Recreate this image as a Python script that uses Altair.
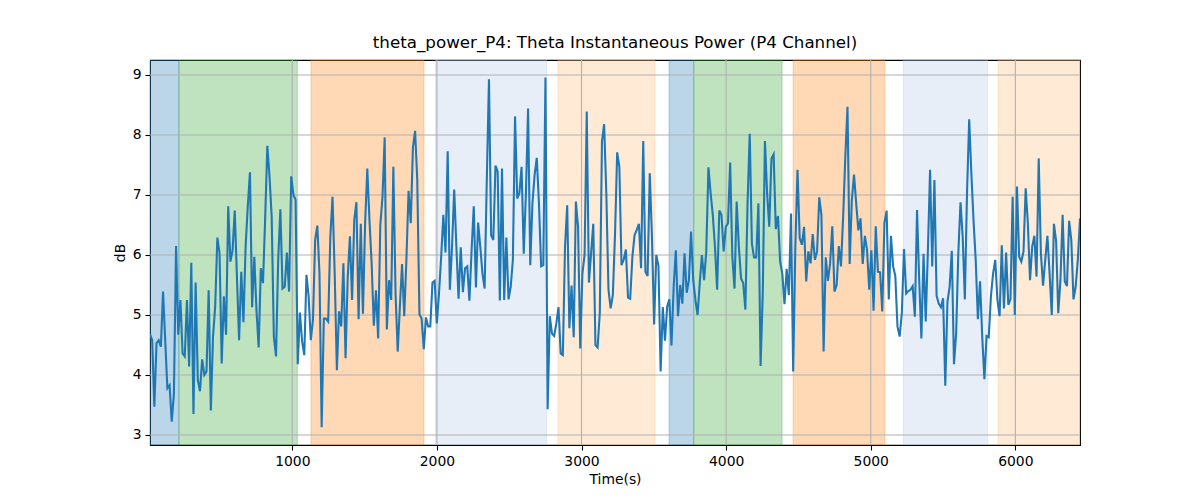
import altair as alt
import numpy as np
import pandas as pd

# ---- theta power (dB), in time order ----
power_seg1 = [4.68, 4.58, 3.47, 4.53, 4.58, 4.47, 5.39, 4.58, 3.78, 3.83, 3.22, 3.69, 6.15, 4.67, 5.25,
              4.36, 4.31, 5.25, 4.14, 5.87, 3.35, 5.54, 3.92, 3.73, 4.26, 4.0, 4.06, 5.41, 3.41, 4.64,
              5.14, 6.29, 6.03, 4.19, 5.31, 4.67, 6.81, 5.89, 6.08, 6.74, 5.64, 4.58, 5.72, 4.88, 6.14,
              6.81, 7.38, 5.13, 5.97, 5.08, 4.46, 5.78, 5.53, 6.61, 7.82, 7.31, 6.64, 4.64, 4.31, 5.92,
              6.76, 5.44, 5.47, 6.04, 5.39, 7.31, 7.0, 6.92, 4.18, 5.04, 4.56, 4.33, 5.67, 5.31, 4.58,
              4.92, 6.25, 6.49, 5.69, 3.13, 4.94, 4.94, 4.89, 6.31, 6.97, 5.69, 4.08]
power_seg2 = [5.06, 4.81, 5.86, 4.28, 5.64, 6.31, 5.25, 6.58, 6.88, 4.93, 6.52, 5.02, 6.53, 7.44, 6.58,
              5.86, 4.82, 5.41, 4.61, 6.5, 6.97, 7.96, 4.76, 5.58, 5.25, 7.47, 5.36, 4.39, 5.14, 5.85,
              4.98, 5.92, 7.07, 6.53, 7.79, 8.07, 7.25, 5.01, 4.94, 4.43, 4.96, 4.81, 4.81, 5.54, 5.57,
              4.86, 5.36, 5.97, 6.67, 6.04, 7.73, 5.42, 6.14, 7.09, 6.14, 5.27, 6.13, 5.38, 5.78, 5.81,
              5.24, 6.08, 6.81, 5.46, 6.54, 6.14, 5.69, 5.44, 7.26, 8.93, 6.33, 6.25, 7.49, 7.39, 5.24,
              7.44, 5.25, 6.29, 5.26, 5.47, 5.92, 8.31, 6.94, 7.03, 7.47, 6.02, 7.03, 8.44]
power_seg3 = [5.83, 6.86, 7.33, 7.62, 6.86, 5.81, 5.83, 8.96, 3.43, 4.98, 4.69, 4.65, 4.86, 5.13, 4.36,
              4.33, 6.14, 6.83, 4.78, 5.49, 4.63, 6.89, 6.47, 4.44, 5.69, 6.0, 8.39, 5.54, 6.03, 6.52,
              4.5, 4.46, 5.03, 7.89, 8.18, 7.03, 5.42, 5.11, 5.33, 6.33, 7.71, 7.47, 5.83, 5.92, 6.09,
              5.29, 5.27, 5.97, 6.33, 6.42, 6.52, 5.78, 7.9, 5.72, 5.65, 7.36, 6.31, 4.84, 6.0, 5.82,
              4.06, 5.13, 4.57, 5.14, 5.26, 4.49, 5.47, 6.08, 4.98, 5.5, 5.19, 6.03, 5.37, 5.58, 6.39,
              5.58, 5.25, 5.0, 5.53, 6.0, 5.58, 6.06, 7.46, 7.03, 6.67, 6.14, 5.42]
power_seg4 = [6.74, 6.67, 6.06, 6.47, 6.53, 7.54, 5.97, 5.44, 6.89, 6.14, 5.61, 5.53, 5.09, 6.86, 8.02,
              6.19, 5.96, 5.96, 6.86, 4.15, 5.36, 7.9, 7.03, 6.47, 7.61, 7.68, 6.43, 6.65, 5.89, 5.69,
              5.18, 5.77, 5.33, 6.69, 4.06, 6.14, 7.42, 6.28, 6.17, 6.47, 5.56, 6.06, 5.86, 6.35, 5.92,
              6.06, 6.96, 6.67, 4.39, 5.96, 5.57, 5.86, 6.48, 5.39, 5.5, 6.15, 5.81, 6.64, 7.64, 8.47,
              5.85, 6.92, 7.34, 6.86, 6.41, 6.61, 5.85, 6.32, 6.08, 5.42, 6.08, 5.07, 6.48, 5.72, 5.71,
              5.06, 6.54, 6.74, 5.26, 6.32, 5.81, 5.65, 4.81, 4.64, 5.03, 6.1, 5.36, 5.4]
power_seg5 = [5.42, 5.48, 4.97, 6.75, 5.58, 4.61, 6.02, 4.89, 6.08, 7.42, 5.81, 7.25, 5.32, 5.19, 5.13,
              5.28, 3.82, 5.22, 5.47, 6.07, 4.18, 4.69, 6.03, 6.88, 6.31, 5.26, 7.03, 8.26, 7.36, 6.58,
              5.92, 4.93, 5.56, 4.64, 3.93, 4.65, 4.63, 5.31, 5.69, 5.92, 5.25, 4.98, 6.16, 5.11, 6.04,
              5.17, 5.26, 6.97, 5.0, 7.14, 5.97, 5.89, 6.06, 7.11, 6.53, 5.58, 6.14, 6.32, 5.64, 7.61,
              6.03, 5.49, 5.92, 6.32, 5.69, 5.0, 6.52, 6.24, 5.03, 5.58, 6.67, 5.56, 5.48, 6.57, 6.25,
              5.26, 5.47, 5.92, 6.61]

power_db = power_seg1 + power_seg2 + power_seg3 + power_seg4 + power_seg5

# recording runs from ~16 s to ~6447 s, evenly sampled
t_first = 16.0
t_last = 6447.0
time_s = np.linspace(t_first, t_last, len(power_db))

# ---- shaded epochs ----
span_start = [16, 216, 1129, 1989, 2837, 3605, 3776, 4463, 5225, 5880]
span_end = [216, 1035, 1911, 2759, 3508, 3776, 4387, 5097, 5809, 6447]
span_kind = ["A", "B", "C", "D", "E", "A", "B", "C", "D", "E"]
kind_names = ["A", "B", "C", "D", "E"]
kind_colors = ["#1f77b4", "#2ca02c", "#ff7f0e", "#aec7e8", "#ffbb78"]

x_ticks = [1000, 2000, 3000, 4000, 5000, 6000]
y_ticks = [3, 4, 5, 6, 7, 8, 9]

line_df = pd.DataFrame({"time": time_s, "db": power_db})
span_df = pd.DataFrame({"start": span_start, "end": span_end, "kind": span_kind})
xgrid_df = pd.DataFrame({"time": x_ticks})
ygrid_df = pd.DataFrame({"db": y_ticks})

W, H = 930, 385
FONT = "DejaVu Sans"

x_scale = alt.Scale(domain=[t_first, t_last], nice=False, zero=False)
y_scale = alt.Scale(domain=[2.833, 9.25], nice=False, zero=False)
x_axis = alt.Axis(values=x_ticks, title="Time(s)", format="d")
y_axis = alt.Axis(values=y_ticks, title="dB", format="d")
kind_scale = alt.Scale(domain=kind_names, range=kind_colors)

spans = alt.Chart(span_df).mark_rect(
    fillOpacity=0.3, strokeOpacity=0.3, strokeWidth=1, clip=True
).encode(
    x=alt.X("start:Q", scale=x_scale, axis=x_axis),
    x2="end:Q",
    y=alt.value(0),
    y2=alt.value(H),
    color=alt.Color("kind:N", scale=kind_scale, legend=None),
    stroke=alt.Color("kind:N", scale=kind_scale, legend=None),
)

# grid drawn above the shaded epochs but below the trace (as in matplotlib)
xgrid = alt.Chart(xgrid_df).mark_rule(color="#b0b0b0", strokeWidth=1.1).encode(
    x=alt.X("time:Q", scale=x_scale, axis=x_axis)
)
ygrid = alt.Chart(ygrid_df).mark_rule(color="#b0b0b0", strokeWidth=1.1).encode(
    y=alt.Y("db:Q", scale=y_scale, axis=y_axis)
)

line = alt.Chart(line_df).mark_line(color="#1f77b4", strokeWidth=2.08, clip=True).encode(
    x=alt.X("time:Q", scale=x_scale, axis=x_axis),
    y=alt.Y("db:Q", scale=y_scale, axis=y_axis),
)

chart = alt.layer(spans, xgrid, ygrid, line).properties(
    width=W,
    height=H,
    title="theta_power_P4: Theta Instantaneous Power (P4 Channel)",
    padding={"left": 150, "top": 60, "right": 120, "bottom": 55},
    autosize=alt.AutoSizeParams(type="none"),
    background="white",
).configure_view(
    stroke="black", strokeWidth=1.1
).configure_axis(
    labelFont=FONT, labelFontSize=13.9, labelColor="black",
    titleFont=FONT, titleFontSize=13.9, titleFontWeight="normal", titleColor="black",
    tickColor="black", tickSize=5, tickWidth=1.1,
    labelPadding=4, titlePadding=5,
    grid=False,
    domain=False,
).configure_title(
    font=FONT, fontSize=16.7, fontWeight="normal", color="black",
    anchor="middle", offset=8,
)

chart.save("out.html", embed_options={"renderer": "svg", "actions": False})
